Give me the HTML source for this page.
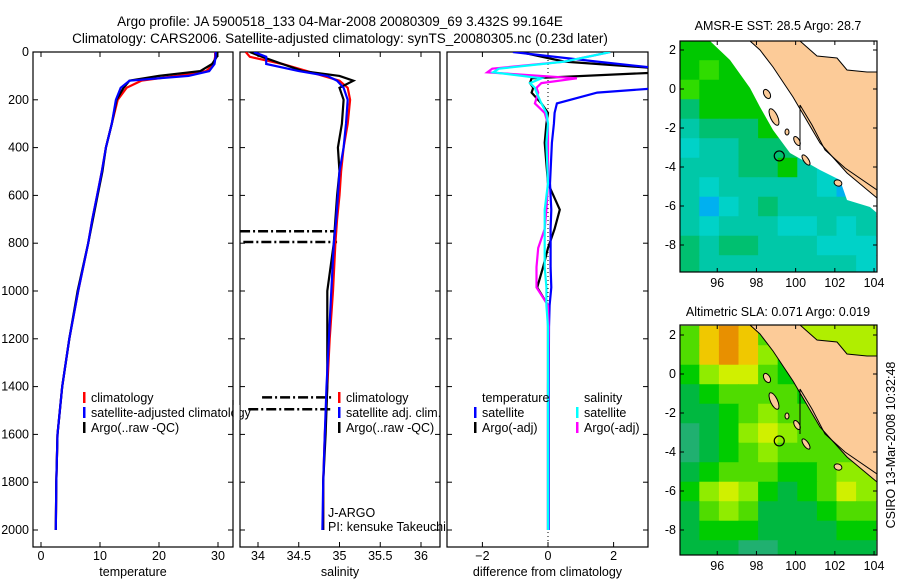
<!DOCTYPE html>
<html><head><meta charset="utf-8">
<style>
html,body{margin:0;padding:0;background:#fff;}
svg{display:block;font-family:"Liberation Sans",sans-serif;}
text{font-size:12.5px;fill:#000;}
</style></head>
<body>
<svg id="fig" width="900" height="580" viewBox="0 0 900 580" xmlns="http://www.w3.org/2000/svg">
<defs>
<clipPath id="c1"><rect x="33" y="52" width="200" height="495"/></clipPath>
<clipPath id="c2"><rect x="240" y="52" width="200" height="495"/></clipPath>
<clipPath id="c3"><rect x="447" y="52" width="201" height="495"/></clipPath>
<clipPath id="m1"><rect x="680" y="41" width="197" height="231"/></clipPath>
<clipPath id="m2"><rect x="680" y="325" width="197" height="230"/></clipPath>
</defs>
<text x="340" y="26" text-anchor="middle" style="font-size:13.5px">Argo profile: JA 5900518_133 04-Mar-2008 20080309_69 3.432S 99.164E</text>
<text x="340" y="43" text-anchor="middle" style="font-size:13.5px">Climatology: CARS2006. Satellite-adjusted climatology: synTS_20080305.nc (0.23d later)</text>
<text x="778" y="30" text-anchor="middle">AMSR-E SST: 28.5 Argo: 28.7</text>
<text x="778" y="316" text-anchor="middle">Altimetric SLA: 0.071 Argo: 0.019</text>
<text transform="translate(895,445) rotate(-90)" text-anchor="middle">CSIRO 13-Mar-2008 10:32:48</text>
<g id="g"></g>
</svg>
<script>
// ---- profile data ----
const depths = [0,20,50,80,100,120,150,200,300,400,500,600,700,800,1000,1200,1400,1600,1800,2000];
const tempClim = [29.5,29.5,29.3,28,23,17,14.5,13,12,11,10.3,9.5,8.7,8,6.3,4.8,3.6,2.8,2.6,2.5];
const tempSat  = [29.6,29.6,29.4,28.5,25,15,13.5,12.7,12,11,10.3,9.5,8.7,8,6.3,4.8,3.6,2.8,2.6,2.5];
const tempArgo = [29.8,29.8,29,27,20,15,14,12.8,12,11,10.4,9.6,8.8,8,6.2,4.8,3.6,2.8,2.6,2.5];
const salClim = [33.85,33.9,34.3,34.6,34.8,35.0,35.1,35.13,35.1,35.05,35.02,35.0,34.97,34.95,34.92,34.88,34.85,34.82,34.8,34.8];
const salSat  = [33.95,34.1,34.1,34.5,34.85,34.97,35.05,35.1,35.08,35.05,35.0,34.98,34.96,34.93,34.9,34.87,34.84,34.82,34.8,34.79];
const salArgo = [33.9,34.05,34.3,34.55,35.0,35.17,35.0,35.05,35.03,34.98,35.0,34.97,34.95,34.93,34.85,34.85,34.85,34.83,34.8,34.8];
const qcDepths = [750,795,1445,1495];
const qcStart = [33.78,33.82,34.05,33.88];
const qcEnd = [34.97,34.97,34.9,34.9];
const diffDepths = [0,40,70,85,110,130,150,170,215,255,300,380,550,660,740,820,900,985,1060,1150,1400,2000];
const dTempSat  = [-1.07,1.5,3.5,3.5,3.5,3.5,3.5,1.5,0.27,0.2,0.18,0.12,0.06,0.1,0.08,0.08,0.08,0.1,0.05,0.03,0.02,0.02];
const dTempArgo = [-0.85,0.5,3.5,3.5,-0.5,-0.55,-0.45,-0.5,-0.2,0,-0.05,-0.1,0,0.36,0.2,0,-0.15,-0.33,0,0,0,0];
const dSalArgo  = [1.9,0.5,-1.7,-1.85,0.88,-0.2,-0.35,-0.3,-0.4,-0.1,0,0,0,-0.05,-0.1,-0.3,-0.35,-0.35,0,0.02,0,0];
const dSalSat   = [1.9,0.5,-1.5,-1.67,-0.2,-0.55,-0.4,-0.35,-0.2,-0.05,0,-0.05,0,-0.1,-0.1,-0.1,-0.1,-0.05,-0.05,0,0,0];
const depthTicks = [0,200,400,600,800,1000,1200,1400,1600,1800,2000];
const tempTicks = [0,10,20,30];
const salTicks = [34,34.5,35,35.5,36];
const diffTicks = [-2,0,2];
// ---- map data ----
const lonTicks = [96,98,100,102,104];
const latTicks = [2,0,-2,-4,-6,-8];
const sstPalette = ['#1060ff','#00b0f0','#00d2c8','#00c8a8','#00c070','#00c800','#30dc00','#c0f000'];
const sstGrid = [
[5,5,5,5,5,5,5,5,5,5],[5,6,5,5,5,5,5,5,5,5],[6,5,5,5,5,5,5,5,5,5],[4,5,5,5,5,5,5,5,5,5],
[3,4,4,4,5,5,5,5,5,5],[2,3,3,4,4,4,4,3,3,3],[3,3,3,4,4,5,3,2,2,3],[3,2,3,3,3,3,3,2,1,4],
[3,1,2,3,4,3,3,3,3,3],[3,2,3,3,3,2,2,3,2,3],[4,3,4,4,3,3,3,2,2,2],[4,3,3,3,3,3,3,3,3,2]];
const slaPalette = ['#20b070','#00b840','#00cc00','#50dc00','#90ec00','#d0f000','#f0c800','#e89000'];
const slaGrid = [
[3,6,7,6,3,2,2,2,2,3],[3,6,7,6,4,2,2,2,2,3],[2,4,5,5,3,2,2,2,2,3],[1,2,3,3,3,3,2,2,2,3],
[1,1,2,3,4,3,3,2,2,3],[0,1,2,4,5,4,3,3,3,3],[0,1,2,3,4,3,3,3,3,3],[1,2,3,3,3,2,2,3,4,4],
[2,4,5,4,2,1,2,3,5,4],[1,3,4,3,1,1,1,2,3,3],[1,2,2,2,1,1,1,1,2,2],[1,1,1,0,0,1,1,1,1,1]];
const argoLon = 99.164, argoLat = -3.432;

const NS='http://www.w3.org/2000/svg';
const G=document.getElementById('g');
function mk(tag,attrs,parent){const e=document.createElementNS(NS,tag);for(const k in attrs)e.setAttribute(k,attrs[k]);(parent||G).appendChild(e);return e;}
const yD=d=>52+d*0.239;
const xT=t=>41+t*5.9;
const xS=s=>258+(s-34)*81.5;
const xDf=v=>548+v*32.8;
const lonX=l=>680+(l-94.1)*19.6;
const latY1=l=>50+(2-l)*19.5;
const latY2=l=>335+(2-l)*19.5;

function line(vals,ds,xf,color,clip,name){
  const pts=vals.map((v,i)=>xf(v).toFixed(1)+','+yD(ds[i]).toFixed(1)).join(' ');
  const p=mk('polyline',{points:pts,fill:'none',stroke:color,'stroke-width':2.2,'clip-path':'url(#'+clip+')'});
  
  
}
function panel(x0,w,ticks,xf,label,name,showY){
  const fr=mk('rect',{x:x0,y:52,width:w,height:495,fill:'none',stroke:'#000','stroke-width':1.2});
  
  
  ticks.forEach(t=>{const x=xf(t);
    mk('line',{x1:x,y1:52,x2:x,y2:57,stroke:'#000'});mk('line',{x1:x,y1:547,x2:x,y2:542,stroke:'#000'});
    const tx=mk('text',{x:x,y:560,'text-anchor':'middle'});tx.textContent=(t<0?'\u2212'+(-t):t);
    
    });
  depthTicks.forEach(d=>{const y=yD(d);
    mk('line',{x1:x0,y1:y,x2:x0+5,y2:y,stroke:'#000'});mk('line',{x1:x0+w,y1:y,x2:x0+w-5,y2:y,stroke:'#000'});
    if(showY){const tx=mk('text',{x:29,y:y+4,'text-anchor':'end'});tx.textContent=d;
      
      }});
  const lb=mk('text',{x:x0+w/2,y:576,'text-anchor':'middle'});lb.textContent=label;
  
  
}
panel(33,200,tempTicks,xT,'temperature','temperature-panel',true);
panel(240,200,salTicks,xS,'salinity','salinity-panel',false);
panel(447,201,diffTicks,xDf,'difference from climatology','difference-panel',false);

line(tempClim,depths,xT,'#ff0000','c1','temp-climatology-line');
line(tempArgo,depths,xT,'#000000','c1','temp-argo-line');
line(tempSat,depths,xT,'#0000ff','c1','temp-satellite-line');
qcDepths.forEach((d,i)=>{const l=mk('line',{x1:xS(qcStart[i]),y1:yD(d),x2:xS(qcEnd[i]),y2:yD(d),stroke:'#000','stroke-width':2.5,'stroke-dasharray':'10 3 2 3','clip-path':'url(#c2)'});
  
  });
line(salClim,depths,xS,'#ff0000','c2','sal-climatology-line');
line(salArgo,depths,xS,'#000000','c2','sal-argo-line');
line(salSat,depths,xS,'#0000ff','c2','sal-satellite-line');
mk('line',{x1:xDf(0),y1:52,x2:xDf(0),y2:547,stroke:'#000','stroke-dasharray':'1 3'});
line(dTempArgo,diffDepths,xDf,'#000000','c3','diff-temp-argo-line');
line(dTempSat,diffDepths,xDf,'#0000ff','c3','diff-temp-satellite-line');
line(dSalArgo,diffDepths,xDf,'#ff00ff','c3','diff-sal-argo-line');
line(dSalSat,diffDepths,xDf,'#00ffff','c3','diff-sal-satellite-line');

function legend(x,y,color,label,name){
  if(color){mk('rect',{x:x,y:y-10,width:2.5,height:11,fill:color});}
  const t=mk('text',{x:x+8,y:y});t.textContent=label;
  
  
}
legend(83,402,'#ff0000','climatology','legend-climatology');
legend(83,417,'#0000ff','satellite-adjusted climatology','legend-satellite-adjusted');
legend(83,432,'#000','Argo(..raw -QC)','legend-argo-raw');
legend(338,402,'#ff0000','climatology','legend-sal-climatology');
legend(338,417,'#0000ff','satellite adj. clim.','legend-sal-satellite');
legend(338,432,'#000','Argo(..raw -QC)','legend-sal-argo');
legend(474,402,null,'temperature','legend-temperature-header');
legend(474,417,'#0000ff','satellite','legend-temp-satellite');
legend(474,432,'#000','Argo(-adj)','legend-temp-argo');
legend(576,402,null,'salinity','legend-salinity-header');
legend(576,417,'#00ffff','satellite','legend-sal-sat');
legend(576,432,'#ff00ff','Argo(-adj)','legend-sal-argo-adj');
mk('rect',{x:233.6,y:405,width:6,height:15,fill:'#fff'});
mk('line',{x1:233,y1:400,x2:233,y2:430,stroke:'#000','stroke-width':1.2});
const pi1=mk('text',{x:328,y:517});pi1.textContent='J-ARGO';


const pi2=mk('text',{x:328,y:531});pi2.textContent='PI: kensuke Takeuchi';



// ---- maps ----
function map(grid,pal,latY,clip,y0,h,name,dy,isSST){
  const g=mk('g',{'clip-path':'url(#'+clip+')'});
  
  
  grid.forEach((row,j)=>row.forEach((v,i)=>{
    const c=mk('rect',{x:lonX(94.1+i)-0.3,y:latY(2.46-j)-0.3,width:19.6+0.6,height:19.5+0.6,fill:pal[v]},g);
    
    
  }));
  const topSea=[[800,41],[877,41],[877,72],[867,72],[847,70],[837,58],[817,56]];
  if(isSST){
    mk('polygon',{points:'710,41 730,60 750,88 760,107 773,130 790,153 820,170 840,180 847,200 870,207 877,213 877,41',fill:'#fff'},g);
    mk('polygon',{points:topSea.map(p=>p[0]+','+p[1]).join(' '),fill:'#fff'},g);
  } else {
    mk('polygon',{points:topSea.map(p=>p[0]+','+(p[1]+dy)).join(' '),fill:'#b0ee00'},g);
  }
  const land=[[750,41],[800,41],[817,56],[837,58],[847,70],[867,72],[877,72],[877,198],[847,173],[820,143],[793,97],[773,67],[760,50]];
  const lp=land.map(p=>p[0]+','+(p[1]+dy)).join(' ');
  const L=mk('polygon',{points:lp,fill:'#fccb98',stroke:'#000','stroke-width':1},g);
  
  
  [[774,117,3.5,9,-25],[767,94,3,5,-30],[787,132,2,3,0],[797,141,2.5,5,-30],[806,160,2.5,6,-35],[838,183,4,3,20]].forEach(e=>{
    mk('ellipse',{cx:e[0],cy:e[1]+dy,rx:e[2],ry:e[3],transform:'rotate('+e[4]+' '+e[0]+' '+(e[1]+dy)+')',fill:'#fccb98',stroke:'#000','stroke-width':1},g);
  });
  mk('line',{x1:800,y1:105+dy,x2:800,y2:150+dy,stroke:'#000'},g);
  mk('polyline',{points:[[800,105],[812,125],[825,150],[845,168],[877,190]].map(p=>p[0]+','+(p[1]+dy)).join(' '),fill:'none',stroke:'#000','stroke-width':1},g);
  const m=mk('circle',{cx:lonX(argoLon),cy:latY(argoLat),r:5,fill:'none',stroke:'#000','stroke-width':1.2},g);
  
  
  const fr=mk('rect',{x:680,y:y0,width:197,height:h,fill:'none',stroke:'#000','stroke-width':1.2});
  
  
  lonTicks.forEach(l=>{const x=lonX(l);
    mk('line',{x1:x,y1:y0,x2:x,y2:y0+4,stroke:'#000'});mk('line',{x1:x,y1:y0+h,x2:x,y2:y0+h-4,stroke:'#000'});
    const t=mk('text',{x:x,y:y0+h+15,'text-anchor':'middle'});t.textContent=l;
    
    });
  latTicks.forEach(l=>{const y=latY(l);
    mk('line',{x1:680,y1:y,x2:684,y2:y,stroke:'#000'});mk('line',{x1:877,y1:y,x2:873,y2:y,stroke:'#000'});
    const t=mk('text',{x:676,y:y+4,'text-anchor':'end'});t.textContent=(l<0?'-'+(-l):l);
    
    });
}
map(sstGrid,sstPalette,latY1,'m1',41,231,'sst-map',0,true);
map(slaGrid,slaPalette,latY2,'m2',325,230,'sla-map',284,false);
</script>
</body></html>
